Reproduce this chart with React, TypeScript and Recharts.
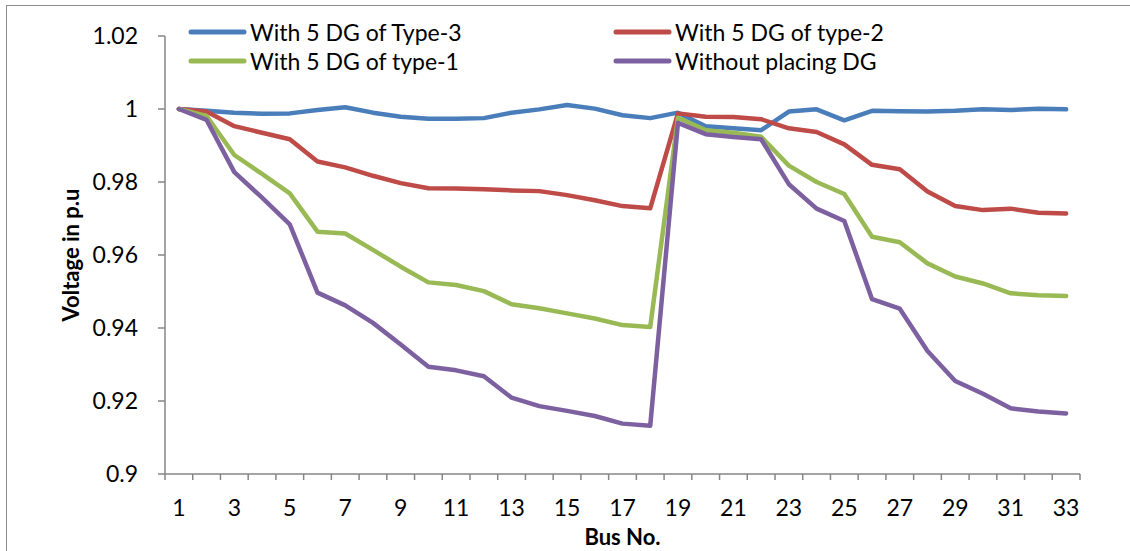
import { LineChart, Line, XAxis, YAxis, Legend } from 'recharts'

// ---------------------------------------------------------------------------
// Bus voltage profile, 33-bus feeder
// ---------------------------------------------------------------------------

const BUS = [
  1, 2, 3, 4, 5, 6, 7, 8, 9, 10, 11, 12, 13, 14, 15, 16, 17,
  18, 19, 20, 21, 22, 23, 24, 25, 26, 27, 28, 29, 30, 31, 32, 33,
]

const DG_TYPE3 = [
  1.0, 0.9995, 0.999, 0.9987, 0.9988, 0.9997, 1.0005, 0.999, 0.9979, 0.9973, 0.9973,
  0.9975, 0.999, 0.9999, 1.0011, 1.0001, 0.9983, 0.9975, 0.999, 0.9953, 0.9947,
  0.9942, 0.9993, 0.9999, 0.9969, 0.9995, 0.9994, 0.9993, 0.9995, 0.9999, 0.9997,
  1.0001, 0.9999,
]

const DG_TYPE2 = [
  1.0, 0.9993, 0.9953, 0.9935, 0.9917, 0.9856, 0.984, 0.9817, 0.9797, 0.9783, 0.9782,
  0.978, 0.9777, 0.9775, 0.9764, 0.975, 0.9734, 0.9728, 0.9988, 0.9979, 0.9978,
  0.9972, 0.9947, 0.9937, 0.9903, 0.9847, 0.9835, 0.9774, 0.9734, 0.9723, 0.9727,
  0.9716, 0.9714,
]

const DG_TYPE1 = [
  1.0, 0.9981, 0.9874, 0.9822, 0.9769, 0.9664, 0.9659, 0.9614, 0.9568, 0.9525, 0.9518,
  0.9501, 0.9465, 0.9454, 0.944, 0.9426, 0.9408, 0.9403, 0.9976, 0.9942, 0.9935,
  0.9924, 0.9845, 0.98, 0.9767, 0.965, 0.9635, 0.9577, 0.9541, 0.9522, 0.9495,
  0.949, 0.9488,
]

const NO_DG = [
  1.0, 0.997, 0.9827, 0.9757, 0.9684, 0.9497, 0.9462, 0.9414, 0.9355, 0.9294, 0.9284,
  0.9268, 0.9209, 0.9186, 0.9173, 0.9159, 0.9138, 0.9132, 0.9962, 0.9931, 0.9923,
  0.9917, 0.9794, 0.9727, 0.9693, 0.9479, 0.9453, 0.9337, 0.9255, 0.922, 0.918,
  0.9171, 0.9166,
]

const Y_TICKS = [0.9, 0.92, 0.94, 0.96, 0.98, 1, 1.02]
const BUS_LABELS = [1, 3, 5, 7, 9, 11, 13, 15, 17, 19, 21, 23, 25, 27, 29, 31, 33]

// tick marks sit on the category boundaries, labels on the categories
const BOUNDARY_TICKS = [...BUS.map((b) => b - 0.5), BUS[BUS.length - 1] + 0.5]

const SERIES = [
  { key: 'type3', name: 'With 5 DG of Type-3', color: '#4a7ebb' },
  { key: 'type2', name: 'With 5 DG of type-2', color: '#be4b48' },
  { key: 'type1', name: 'With 5 DG of type-1', color: '#98b954' },
  { key: 'noDg', name: 'Without placing DG', color: '#7d60a0' },
]

const data = BUS.map((bus, i) => ({
  bus,
  type3: DG_TYPE3[i],
  type2: DG_TYPE2[i],
  type1: DG_TYPE1[i],
  noDg: NO_DG[i],
}))

const AXIS_GREY = '#868686'
const FONT = 'Lato, "Open Sans", sans-serif'

// Boundary tick at value b carries the label of the bus to its right (b + 0.5),
// shifted by half a category width.
function BusTick({ x, y, payload, width }: any) {
  const bus = payload.value + 0.5
  if (!BUS_LABELS.includes(bus)) return <g />
  const half = (Number(width) || 915) / BUS.length / 2
  return (
    <text x={x + half} y={y} dy="0.71em" textAnchor="middle" fontSize={23} fill="#000">
      {bus}
    </text>
  )
}

function LegendGrid() {
  return (
    <div
      style={{
        display: 'grid',
        gridTemplateColumns: '425px 425px',
        fontFamily: FONT,
        fontSize: 23,
        color: '#000',
      }}
    >
      {SERIES.map((s) => (
        <div key={s.key} style={{ display: 'flex', alignItems: 'center', height: 29 }}>
          <svg width={60} height={10} style={{ flex: 'none' }}>
            <line x1={3} x2={56} y1={5} y2={5} stroke={s.color} strokeWidth={5} strokeLinecap="round" />
          </svg>
          <span style={{ marginLeft: 2, whiteSpace: 'nowrap' }}>{s.name}</span>
        </div>
      ))}
    </div>
  )
}

function YTitle({ viewBox }: any) {
  const cx = 70
  const cy = viewBox.y + viewBox.height / 2
  return (
    <text
      x={cx}
      y={cy}
      transform={`rotate(-90 ${cx} ${cy})`}
      textAnchor="middle"
      dominantBaseline="central"
      fontFamily={FONT}
      fontSize={22}
      fontWeight={700}
      fill="#000"
    >
      Voltage in p.u
    </text>
  )
}

export default function App() {
  return (
    <div
      style={{
        position: 'absolute',
        left: 0,
        top: 0,
        width: 1130,
        height: 551,
        overflow: 'hidden',
        background: '#fff',
        fontFamily: FONT,
      }}
    >
      {/* outer chart frame, runs off the right and bottom edges */}
      <div
        style={{
          position: 'absolute',
          left: 6,
          top: 5,
          width: 1150,
          height: 570,
          border: '1.5px solid #8c8c8c',
        }}
      />
      <div style={{ position: 'absolute', left: 0, top: 0 }}>
        <LineChart
          width={1130}
          height={551}
          data={data}
          margin={{ top: 36, right: 50, left: 0, bottom: 0 }}
        >
          <XAxis
            type="number"
            dataKey="bus"
            domain={[0.5, 33.5]}
            ticks={BOUNDARY_TICKS}
            interval={0}
            allowDataOverflow
            height={77}
            tickSize={6}
            tickMargin={20}
            stroke={AXIS_GREY}
            strokeWidth={1.5}
            tick={<BusTick />}
            label={{
              value: 'Bus No.',
              position: 'insideBottom',
              offset: 6,
              fill: '#000',
              fontSize: 22,
              fontWeight: 700,
            }}
          />
          <YAxis
            width={165}
            domain={[0.9, 1.02]}
            ticks={Y_TICKS}
            interval={0}
            allowDataOverflow
            tickSize={7}
            tickMargin={20}
            stroke={AXIS_GREY}
            strokeWidth={1.5}
            tick={{ fill: '#000', fontSize: 23 }}
            tickFormatter={(v: number) => String(Number(v.toFixed(2)))}
            label={<YTitle />}
          />
          <Legend
            layout="horizontal"
            verticalAlign="middle"
            align="center"
            wrapperStyle={{ top: 17, left: 188, width: 870, height: 58 }}
            content={() => <LegendGrid />}
          />
          {SERIES.map((s) => (
            <Line
              key={s.key}
              type="linear"
              dataKey={s.key}
              name={s.name}
              stroke={s.color}
              strokeWidth={4.5}
              strokeLinejoin="round"
              strokeLinecap="round"
              dot={false}
              activeDot={false}
              isAnimationActive={false}
            />
          ))}
        </LineChart>
      </div>
    </div>
  )
}
